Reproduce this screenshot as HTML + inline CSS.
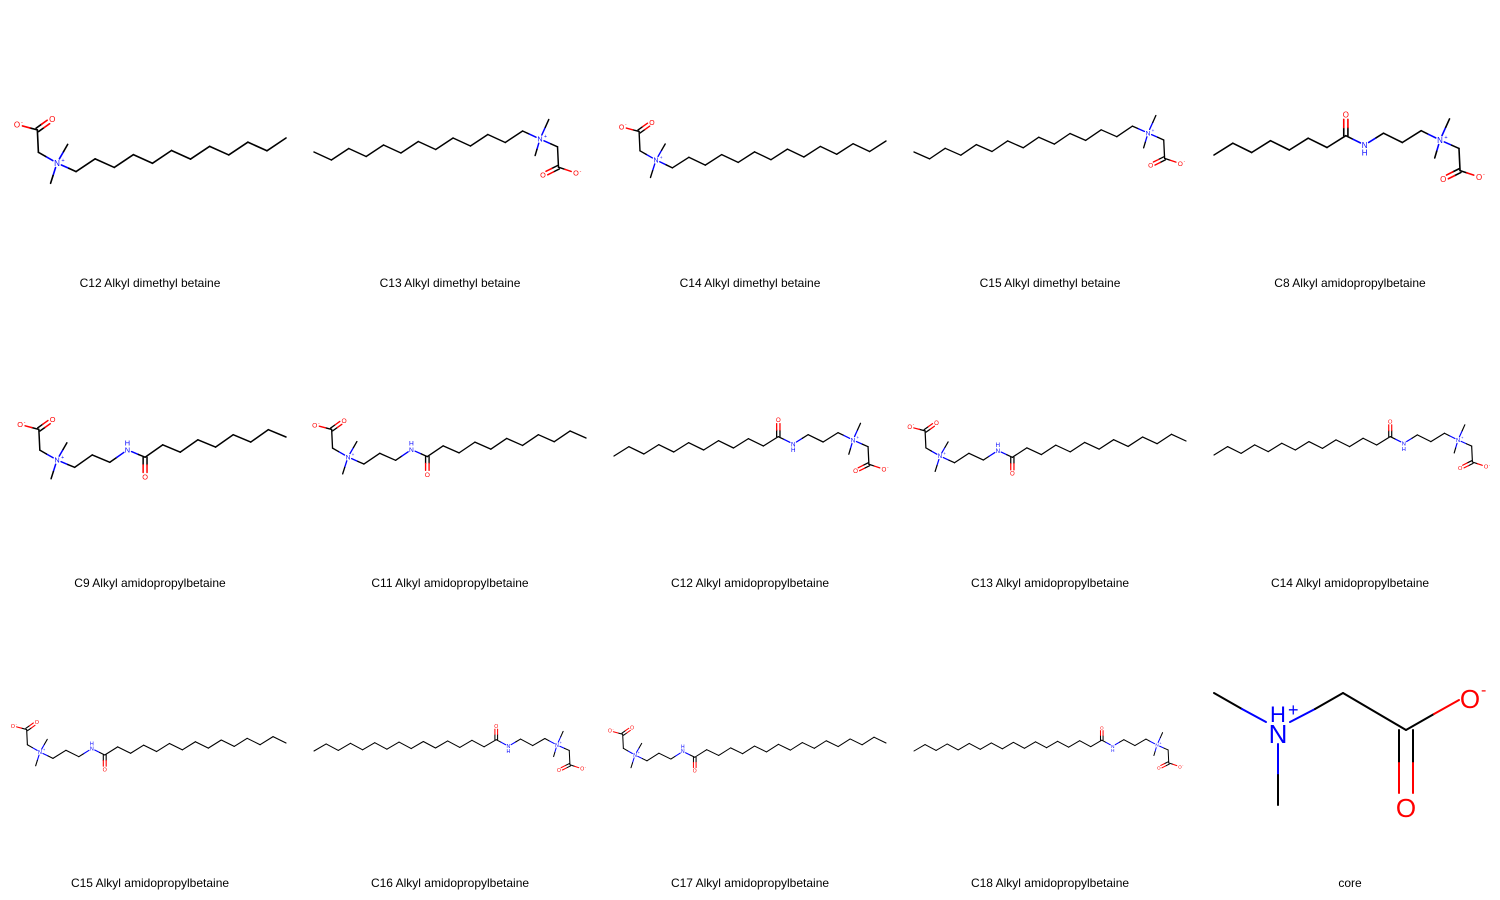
<!DOCTYPE html>
<html><head><meta charset="utf-8"><style>
html,body{margin:0;padding:0;background:#fff;}
svg{display:block;font-family:"Liberation Sans",sans-serif;}
</style></head><body>
<svg id="grid" width="1500" height="900" viewBox="0 0 1500 900"></svg>
<script>
const names=["C12 Alkyl dimethyl betaine","C13 Alkyl dimethyl betaine","C14 Alkyl dimethyl betaine","C15 Alkyl dimethyl betaine","C8 Alkyl amidopropylbetaine","C9 Alkyl amidopropylbetaine","C11 Alkyl amidopropylbetaine","C12 Alkyl amidopropylbetaine","C13 Alkyl amidopropylbetaine","C14 Alkyl amidopropylbetaine","C15 Alkyl amidopropylbetaine","C16 Alkyl amidopropylbetaine","C17 Alkyl amidopropylbetaine","C18 Alkyl amidopropylbetaine","core"];
// orientation: L = head at left, R = head at right
const orient=["L","R","L","R","R","L","L","R","L","R","L","R","L","R"];
const nBonds=[12,13,14,15,12,13,15,16,17,18,19,20,21,22];
const amide=[0,0,0,0,1,1,1,1,1,1,1,1,1,1];
const nPos=[[57,163],[540,139],[656,160],[1148,133],[1440,140],[57,460],[348,457],[853,440],[940,456],[1458,440],[40,752],[557,745],[635,755],[1157,745]];
const tailPos=[[286,138],[314,152],[886,141],[914,152],[1214,155],[286,437],[586,438],[614,456],[1186,441],[1214,455],[286,743],[314,751],[886,743],[914,751]];

const svg=document.getElementById('grid');
const NS='http://www.w3.org/2000/svg';
const BLUE='#0000FF',RED='#FF0000',BLK='#000000';
function line(x1,y1,x2,y2,c,w,g){const l=document.createElementNS(NS,'line');
l.setAttribute('x1',x1);l.setAttribute('y1',y1);l.setAttribute('x2',x2);l.setAttribute('y2',y2);
l.setAttribute('stroke',c);l.setAttribute('stroke-width',w);l.setAttribute('stroke-linecap','round');


g.appendChild(l);}
function text(x,y,s,c,fs,g,nm,anchor){const t=document.createElementNS(NS,'text');
t.setAttribute('x',x);t.setAttribute('y',y);t.setAttribute('fill',c);t.setAttribute('font-size',fs);
t.setAttribute('text-anchor',anchor||'middle');t.textContent=s;


g.appendChild(t);return t;}
function bond(a,b,ca,cb,sa,sb,w,g,off){
  let dx=b[0]-a[0],dy=b[1]-a[1],L=Math.hypot(dx,dy),ux=dx/L,uy=dy/L;
  let ox=0,oy=0;if(off){ox=-uy*off;oy=ux*off;}
  const p=[a[0]+ux*sa+ox,a[1]+uy*sa+oy],q=[b[0]-ux*sb+ox,b[1]-uy*sb+oy];
  const m=[(p[0]+q[0])/2,(p[1]+q[1])/2];
  if(ca===cb){line(p[0],p[1],q[0],q[1],ca,w,g);}
  else{line(p[0],p[1],m[0],m[1],ca,w,g);line(m[0],m[1],q[0],q[1],cb,w,g);}
}
function add(p,b,vx,vy){return [p[0]+b*vx,p[1]+b*vy];}

for(let k=0;k<14;k++){
  const g=document.createElementNS(NS,'g');
  
  
  svg.appendChild(g);
  const n=nBonds[k],L=orient[k]==='L';
  const N=nPos[k],T=tailPos[k];
  const hstep=Math.abs(T[0]-N[0])/n;
  const amp=hstep*0.28,b=hstep*1.12,w=Math.max(1,hstep*0.085),fs=hstep*0.42;
  const nIdx=L?0:n;
  const sgn=i=>((Math.abs(i-nIdx)%2===0)?1:-1)*(L?-1:1);
  const A=L?N:T,B=L?T:N;
  const a0=[A[0],A[1]-sgn(0)*amp],a1=[B[0],B[1]-sgn(n)*amp];
  const atoms=[];
  for(let i=0;i<=n;i++){const t=i/n;atoms.push([a0[0]+(a1[0]-a0[0])*t,a0[1]+(a1[1]-a0[1])*t+sgn(i)*amp]);}
  const type=atoms.map(()=>'C');type[nIdx]='N+';
  let carb=-1;
  if(amide[k]){
    if(L){type[4]='NH';carb=5;}else{type[n-4]='NH';carb=n-5;}
  }
  const col=t=>t==='C'?BLK:(t[0]==='N'?BLUE:RED);
  const sh=t=>t==='C'?0:fs*0.6;
  for(let i=0;i<n;i++){bond(atoms[i],atoms[i+1],col(type[i]),col(type[i+1]),sh(type[i]),sh(type[i+1]),w,g);}
  if(carb>=0){const c=atoms[carb],s=sgn(carb);const o=[c[0],c[1]+s*b];
    bond(c,o,BLK,RED,0,fs*0.6,w,g,-w*1.3);bond(c,o,BLK,RED,0,fs*0.6,w,g,w*1.3);
    text(o[0],o[1]+fs*0.36,'O',RED,fs,g,'carbonyl-oxygen');}
  const nh=type.indexOf('NH');
  if(nh>=0){const p=atoms[nh];text(p[0],p[1]+fs*0.36,'N',BLUE,fs,g,'amide-nitrogen');
    text(p[0],p[1]+sgn(nh)*fs*0.95+fs*0.36,'H',BLUE,fs,g,'amide-hydrogen');}
  const np=atoms[nIdx];
  let m1,m2,ch2,cc,od,om;
  if(L){m1=add(np,b,0.5,-0.87);m2=add(np,b,-0.3,0.95);ch2=add(np,b,-0.87,-0.5);cc=add(ch2,b,-0.05,-1.05);om=add(cc,b,-0.95,-0.25);od=add(cc,b,0.7,-0.5);}
  else{m1=add(np,b,0.45,-1);m2=add(np,b,-0.25,0.85);ch2=add(np,b,0.9,0.4);cc=add(ch2,b,0.05,1.05);od=add(cc,b,-0.8,0.4);om=add(cc,b,0.9,0.3);}
  bond(np,m1,BLUE,BLK,fs*0.6,0,w,g);bond(np,m2,BLUE,BLK,fs*0.6,0,w,g);bond(np,ch2,BLUE,BLK,fs*0.6,0,w,g);
  bond(ch2,cc,BLK,BLK,0,0,w,g);
  bond(cc,om,BLK,RED,0,fs*0.7,w,g);
  bond(cc,od,BLK,RED,0,fs*0.6,w,g,-w*1.3);bond(cc,od,BLK,RED,0,fs*0.6,w,g,w*1.3);
  text(np[0],np[1]+fs*0.36,'N',BLUE,fs,g,'quaternary-nitrogen');
  text(np[0]+fs*0.55,np[1]-fs*0.15,'+',BLUE,fs*0.7,g,'positive-charge','start');
  text(od[0],od[1]+fs*0.36,'O',RED,fs,g,'carboxyl-oxygen');
  text(om[0],om[1]+fs*0.36,'O',RED,fs,g,'carboxylate-oxygen');
  text(om[0]+fs*0.5,om[1]-fs*0.1,'-',RED,fs*0.7,g,'negative-charge','start');
}
(function(){
  const g=document.createElementNS(NS,'g');
  
  
  svg.appendChild(g);
  const w=2;
  line(1214,693,1242,709,BLK,w,g);line(1242,709,1266,722,BLUE,w,g);
  line(1278,744,1278,775,BLUE,w,g);line(1278,775,1278,805,BLK,w,g);
  line(1290,722,1315,709,BLUE,w,g);line(1315,709,1343,693,BLK,w,g);
  line(1343,693,1406,730,BLK,w,g);
  line(1406,730,1434,714,BLK,w,g);line(1434,714,1459,700,RED,w,g);
  line(1399,730,1399,763,BLK,w,g);line(1399,763,1399,793,RED,w,g);
  line(1413,730,1413,763,BLK,w,g);line(1413,763,1413,793,RED,w,g);
  text(1278,743,'N',BLUE,26,g,'core-nitrogen');
  text(1278,722,'H',BLUE,22,g,'core-hydrogen');
  text(1288,716,'+',BLUE,18,g,'core-positive-charge','start');
  text(1470,708,'O',RED,26,g,'core-carboxylate-oxygen');
  text(1481,695,'-',RED,16,g,'core-negative-charge','start');
  text(1406,817,'O',RED,26,g,'core-carbonyl-oxygen');
})();
for(let k=0;k<15;k++){
  const col=k%5,row=Math.floor(k/5);
  text(150+300*col,287+300*row,names[k],BLK,12,svg,'molecule-label');
}
</script>
</body></html>
